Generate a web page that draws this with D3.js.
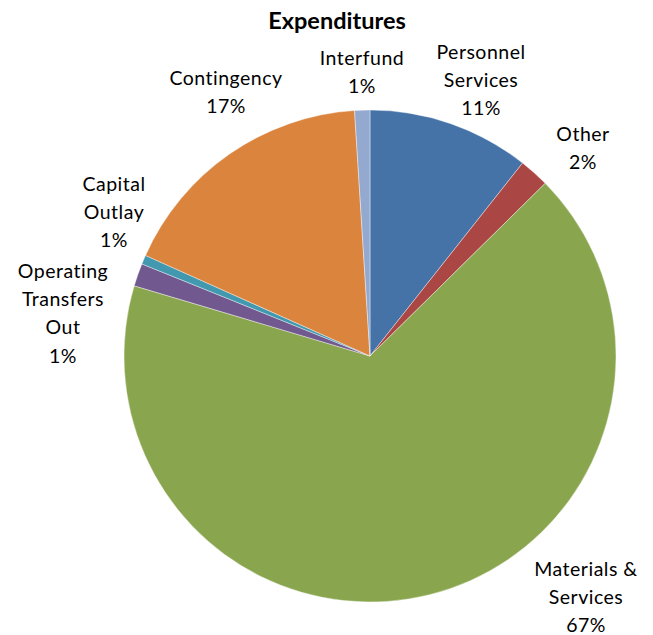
<!DOCTYPE html>
<html><head><meta charset="utf-8">
<script src="https://cdn.jsdelivr.net/npm/d3@7"></script>
<style>body{margin:0;background:#fff}text{font-family:"Lato","Liberation Sans",sans-serif}</style>
</head><body>
<svg id="c" width="653" height="635"></svg>
<script>
const categories = ["Personnel Services","Other","Materials & Services","Operating Transfers Out","Capital Outlay","Contingency","Interfund"];
const values = [10.65, 1.97, 67.0, 1.5, 0.6, 17.3, 1.0];
const pctLabels = ["11%","2%","67%","1%","1%","17%","1%"];
const labelLines = [["Personnel","Services"],["Other"],["Materials &","Services"],["Operating","Transfers","Out"],["Capital","Outlay"],["Contingency"],["Interfund"]];
const colors = ["#4572A7","#AA4643","#89A54E","#71588F","#4198AF","#DB843D","#93A9CF"];
// label anchor (center of first line) relative to pie center
const labelPos = [[111,-304],[213,-222],[216,213],[-307,-85],[-256,-172],[-144,-278],[-8,-298]];

const svg = d3.select("#c");
const cx = 370, cy = 356, R = 246;
const g = svg.append("g").attr("transform",`translate(${cx},${cy})`);
const pie = d3.pie().sort(null).value(d=>d);
const arc = d3.arc().innerRadius(0).outerRadius(R);
const arcs = pie(values);
g.selectAll("path").data(arcs).enter().append("path")
  .attr("d",arc).attr("fill",(d,i)=>colors[i])
  .attr("stroke","#fff").attr("stroke-width",0.4);

svg.append("text").attr("x",337).attr("y",29).attr("text-anchor","middle")
  .attr("font-size",23.5).attr("font-weight","bold").text("Expenditures");

const lh = 28.3;
arcs.forEach((a,i)=>{
  const lines = labelLines[i].concat([pctLabels[i]]);
  const t = g.append("text").attr("text-anchor","middle").attr("font-size",19.5)
    .attr("letter-spacing",0.5).attr("fill","#000");
  lines.forEach((s,j)=>{
    t.append("tspan").attr("x",labelPos[i][0]).attr("y",labelPos[i][1]+j*lh).attr("dy","0.35em").text(s);
  });
});
</script>
</body></html>
